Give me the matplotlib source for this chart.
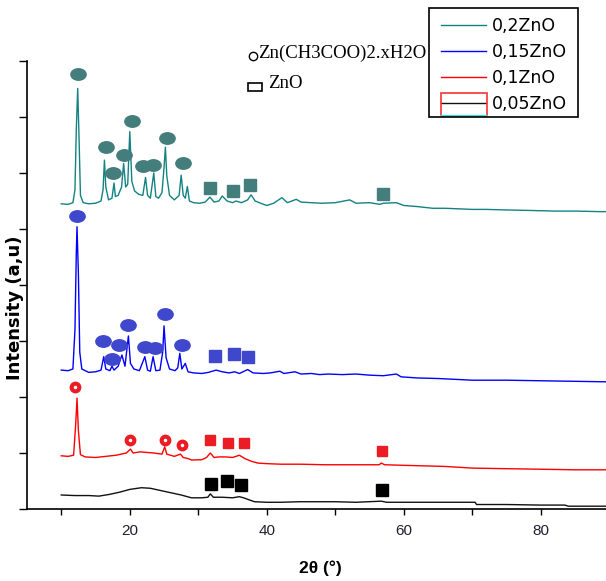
import numpy as np
import matplotlib
matplotlib.use("Agg")
import matplotlib.pyplot as plt
from matplotlib.path import Path
from matplotlib.transforms import Affine2D
from matplotlib.patches import Rectangle
from matplotlib.lines import Line2D

#------data (2theta, stacked intensity)
x_teal = [10, 11, 11.7, 12.0, 12.2, 12.4, 12.6, 12.8, 13.2, 14, 15, 15.8, 16.1, 16.3, 16.5, 16.9, 17.4, 17.7, 17.9,
          18.3, 18.8, 19.1, 19.4, 19.7, 20.0, 20.3, 20.7, 21.3, 21.9, 22.3, 22.6, 23.0, 23.5, 23.8, 24.2, 24.7, 25.0,
          25.2, 25.4, 25.8, 26.5, 27.2, 27.5, 27.8, 28.1, 28.4, 28.7, 29.3, 30.2, 31.0, 31.7, 32.3, 33.0, 33.5, 34.2,
          35.0, 35.5, 36.3, 37.2, 37.7, 38.3, 39.3, 40.0, 41.0, 42.2, 43.0, 44.3, 45.0, 46.5, 48.0, 50.0, 52.1, 53.0,
          55.0, 56.5, 57.0, 58.9, 60.0, 62.0, 64.2, 66.0, 68.0, 70.0, 72.0, 75.0, 78.8, 82.0, 85.0, 88.6, 90]
y_teal = [5.45, 5.44, 5.47, 5.7, 6.8, 7.51, 6.6, 5.6, 5.47, 5.45, 5.46, 5.5, 5.7, 6.23, 5.75, 5.52, 5.55, 5.82, 5.58,
          5.6, 5.75, 6.17, 5.75, 5.8, 6.74, 5.85, 5.68, 5.62, 5.6, 5.92, 5.6, 5.55, 6.0, 5.58, 5.55, 5.65, 6.1,
          6.46, 5.95, 5.6, 5.52, 5.6, 5.96, 5.6, 5.55, 5.76, 5.5, 5.47, 5.46, 5.48, 5.57, 5.48, 5.5, 5.59, 5.5,
          5.47, 5.5, 5.47, 5.52, 5.61, 5.5, 5.45, 5.42, 5.46, 5.56, 5.47, 5.53, 5.48, 5.47, 5.46, 5.47, 5.52, 5.46,
          5.47, 5.44, 5.46, 5.47, 5.42, 5.40, 5.37, 5.37, 5.36, 5.35, 5.35, 5.34, 5.33, 5.32, 5.32, 5.31, 5.31]

x_blue = [10, 11, 11.7, 12.0, 12.2, 12.3, 12.5, 12.7, 13.0, 14, 15, 15.8, 16.2, 16.5, 17.1, 17.4, 17.7, 18.3, 18.85,
          19.3, 19.8, 20.1, 20.6, 21.4, 22.2, 22.6, 23.0, 23.4, 23.8, 24.4, 24.8, 25.0, 25.3, 25.8, 26.6, 27.0, 27.3,
          27.6, 28.1, 28.5, 29.3, 30.5, 31.5, 32.6, 33.5, 34.5, 35.3, 36.0, 37.2, 38.0, 39.5, 40.5, 41.9, 42.5, 44.1,
          45.0, 46.5, 47.7, 49.0, 51.0, 53.0, 55.0, 57.0, 58.9, 59.6, 62.0, 65.0, 70.0, 75.0, 80.0, 85.0, 90]
y_blue = [2.48, 2.47, 2.5, 3.2, 4.6, 5.04, 4.2, 2.8, 2.5, 2.44, 2.45, 2.48, 2.72, 2.5, 2.47, 2.55, 2.48, 2.55, 2.75,
          2.55, 3.09, 2.6, 2.5, 2.47, 2.72, 2.48, 2.46, 2.72, 2.47, 2.48, 2.8, 3.27, 2.7, 2.5, 2.47, 2.52, 2.78,
          2.5, 2.6, 2.45, 2.43, 2.42, 2.44, 2.48, 2.45, 2.43, 2.45, 2.42, 2.49, 2.43, 2.42, 2.43, 2.46, 2.42, 2.45,
          2.41, 2.42, 2.40, 2.41, 2.40, 2.41, 2.39, 2.38, 2.41, 2.36, 2.34, 2.33, 2.30, 2.30, 2.29, 2.28, 2.27]

x_red = [10, 11.0, 11.8, 12.1, 12.3, 12.5, 12.8, 13.5, 15.0, 16.5, 18.0, 19.5, 20.1, 20.5, 21.5, 22.5, 23.5, 24.7,
         25.1, 25.4, 26.5, 27.4, 27.8, 28.5, 29.0, 30.5, 31.2, 31.75, 32.3, 33.0, 34.0, 35.0, 36.0, 36.8, 37.8, 38.7,
         40, 42, 45, 48.4, 52, 55, 56.4, 56.7, 57.2, 60, 63, 66, 70, 75, 80, 85, 90]
y_red = [0.95, 0.94, 0.96, 1.5, 1.98, 1.4, 0.97, 0.93, 0.92, 0.94, 0.96, 1.0, 1.07, 1.0, 1.02, 1.01, 1.0, 0.98,
         1.11, 0.98, 0.94, 0.98, 0.92, 0.9, 0.875, 0.88, 0.92, 1.0, 0.92, 0.93, 0.93, 0.92, 0.96, 0.9, 0.85, 0.82,
         0.81, 0.80, 0.80, 0.79, 0.79, 0.79, 0.79, 0.82, 0.79, 0.78, 0.77, 0.76, 0.73, 0.72, 0.71, 0.70, 0.70]

x_black = [10, 12, 14, 15.5, 17, 18.5, 20, 21.7, 23, 24.5, 26, 27.5, 29, 30.5, 31.4, 31.75, 32.2, 33.5, 35.0, 36.0,
           36.6, 37.5, 38.2, 40, 42, 44.8, 47, 50, 53, 56.7, 57.5, 60, 65, 70.4, 70.6, 75, 80, 83.5, 84, 90]
y_black = [0.25, 0.24, 0.24, 0.23, 0.26, 0.3, 0.35, 0.38, 0.37, 0.33, 0.29, 0.25, 0.2, 0.2, 0.21, 0.27, 0.21, 0.21,
           0.2, 0.22, 0.2, 0.16, 0.13, 0.12, 0.12, 0.13, 0.13, 0.13, 0.12, 0.14, 0.12, 0.12, 0.12, 0.12, 0.08, 0.08,
           0.07, 0.07, 0.05, 0.05]

# phase markers: circles = Zn(CH3COO)2.xH2O, squares = ZnO
teal_circ_x = [12.5, 16.6, 17.6, 19.1, 20.3, 22.0, 23.4, 25.4, 27.8]
teal_circ_y = [7.76, 6.47, 6.0, 6.33, 6.92, 6.13, 6.14, 6.62, 6.17]
teal_sq_x = [31.65, 35.1, 37.6, 56.95]
teal_sq_y = [5.74, 5.68, 5.79, 5.62]
blue_circ_x = [12.3, 16.1, 17.4, 18.4, 19.8, 22.2, 23.7, 25.1, 27.6]
blue_circ_y = [5.23, 3.0, 2.68, 2.93, 3.29, 2.90, 2.88, 3.48, 2.93]
blue_sq_x = [32.4, 35.2, 37.2]
blue_sq_y = [2.73, 2.77, 2.72]
red_circ_x = [12.0, 20.1, 25.1, 27.6]
red_circ_y = [2.17, 1.24, 1.24, 1.15]
red_sq_x = [31.75, 34.3, 36.6, 56.8]
red_sq_y = [1.23, 1.18, 1.18, 1.04]
black_sq_x = [31.9, 34.2, 36.3, 56.8]
black_sq_y = [0.44, 0.5, 0.42, 0.34]

labels = ['0,2ZnO', '0,15ZnO', '0,1ZnO', '0,05ZnO']
x_ticks = [10, 20, 30, 40, 50, 60, 70, 80]
x_ticklabels = ['', '20', '', '40', '', '60', '', '80']

#------figure
W, H = 606, 581
fig = plt.figure(figsize=(W / 100, H / 100), dpi=100)
ax = fig.add_axes([27 / W, 1 - 509 / H, 1 - 27 / W, 448 / H])

ellipse = Path.unit_circle().transformed(Affine2D().scale(1.0, 0.75))

l1, = ax.plot(x_teal, y_teal, color='#138282', lw=1.0)
l2, = ax.plot(x_blue, y_blue, color='#0000ff', lw=1.0)
l3, = ax.plot(x_red, y_red, color='#ff0000', lw=1.0)
l4, = ax.plot(x_black, y_black, color='#111111', lw=1.0)

ax.plot(teal_circ_x, teal_circ_y, ls='none', marker=ellipse, ms=11, color='#437e7c')
ax.plot(teal_sq_x, teal_sq_y, ls='none', marker='s', ms=8, color='#437e7c')
ax.plot(blue_circ_x, blue_circ_y, ls='none', marker=ellipse, ms=11, color='#3f48cc')
ax.plot(blue_sq_x, blue_sq_y, ls='none', marker='s', ms=8.5, color='#3f48cc')
ax.plot(red_circ_x, red_circ_y, ls='none', marker='o', ms=7.5, color='#ec1c24')
ax.plot(red_circ_x, red_circ_y, ls='none', marker='o', ms=1.5, color='white')
ax.plot(red_sq_x, red_sq_y, ls='none', marker='s', ms=7.5, color='#ec1c24')
ax.plot(black_sq_x, black_sq_y, ls='none', marker='s', ms=8, color='black')

ax.set_xlim(5, 89.5)
ax.set_ylim(0, 8)
ax.set_xticks(x_ticks)
ax.set_xticklabels(x_ticklabels)
ax.set_yticks(np.arange(0, 9))
ax.set_yticklabels([])
ax.tick_params(axis='x', direction='out', length=4.5, width=1, labelsize=11, labelcolor='#202030', pad=6)
ax.tick_params(axis='y', direction='out', length=6, width=1)
for side in ['top', 'right']:
    ax.spines[side].set_visible(False)
for side in ['left', 'bottom']:
    ax.spines[side].set_linewidth(1.2)
for lab in ax.get_xticklabels():
    lab.set_family('Liberation Sans')

ax.set_xlabel('2θ (°)', fontsize=12.5, fontweight='bold', family='Liberation Sans')
ax.xaxis.set_label_coords(0.506, -0.114)
ax.set_ylabel('Intensity (a,u)', fontsize=13, fontweight='bold', family='DejaVu Sans')
ax.yaxis.set_label_coords(-0.006, 0.45)

# legend without its own frame; the frame is drawn as a box below
leg = ax.legend([l1, l2, l3, l4], labels, loc='upper left',
                bbox_to_anchor=(432 / W, 1 - 8 / H), bbox_transform=fig.transFigure,
                borderaxespad=0, frameon=False,
                prop={'family': 'DejaVu Sans', 'size': 12.5}, handlelength=2.6,
                handletextpad=0.35, labelspacing=0.47, borderpad=0.5)
fig.add_artist(Rectangle((429 / W, 1 - 117 / H), 149 / W, 109 / H, transform=fig.transFigure,
                         fill=False, edgecolor='black', lw=1.2, zorder=5))

# the red box / cyan line left around the last legend key
fig.add_artist(Rectangle((441 / W, 1 - 116 / H), 46 / W, 23 / H, transform=fig.transFigure,
                         fill=False, edgecolor='#ff3030', lw=1.2))
fig.add_artist(Line2D([441 / W, 487 / W], [1 - 116 / H, 1 - 116 / H], transform=fig.transFigure,
                      color='#00ffff', lw=1.2))

# phase key
fig.add_artist(Line2D([253 / W], [1 - 56 / H], transform=fig.transFigure, marker='o', ms=6,
                      mfc='white', mec='black', mew=1.0))
fig.text(258 / W, 1 - 57.5 / H, 'Zn(CH3COO)2.xH2O', family='Liberation Serif', fontsize=13.5,
         va='baseline', ha='left')
fig.add_artist(Rectangle((248 / W, 1 - 91 / H), 14 / W, 7.5 / H, transform=fig.transFigure,
                         fill=False, edgecolor='black', lw=1.2))
fig.text(268 / W, 1 - 88.5 / H, 'ZnO', family='Liberation Serif', fontsize=13.5,
         va='baseline', ha='left')

fig.savefig('out.png', dpi=100)
